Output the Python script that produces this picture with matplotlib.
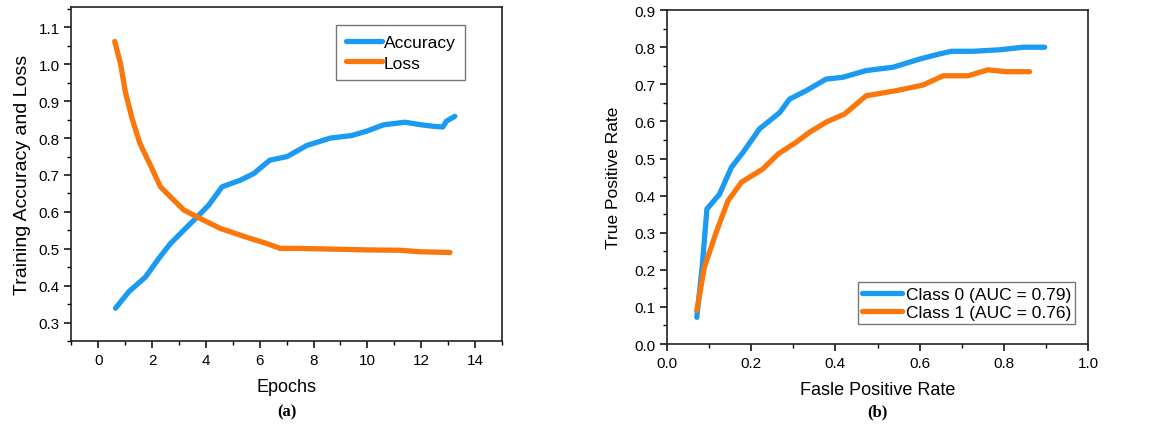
import matplotlib
matplotlib.use("Agg")
import matplotlib.pyplot as plt
from matplotlib.ticker import MultipleLocator, FormatStrFormatter

plt.rcParams['font.family'] = ['Liberation Sans', 'DejaVu Sans']

# (a) training curves
acc_epochs = [0.64, 1.14, 1.76, 2.25, 2.68, 3.24, 3.67, 4.1, 4.6, 5.28, 5.78, 6.37,
              7.02, 7.75, 8.62, 9.42, 9.98, 10.6, 11.4, 12.0, 12.45, 12.8, 12.94, 13.25]
accuracy = [0.339, 0.384, 0.424, 0.474, 0.514, 0.555, 0.586, 0.618, 0.668, 0.686, 0.704, 0.74,
            0.75, 0.78, 0.80, 0.807, 0.819, 0.836, 0.843, 0.836, 0.832, 0.83, 0.846, 0.859]
loss_epochs = [0.61, 0.83, 1.01, 1.26, 1.55, 1.94, 2.31, 2.68, 3.18, 3.79, 4.54, 5.65,
               6.27, 6.76, 7.5, 8.74, 9.98, 11.2, 11.95, 13.07]
loss = [1.062, 1.001, 0.924, 0.852, 0.785, 0.726, 0.668, 0.641, 0.605, 0.582, 0.555, 0.528,
        0.514, 0.501, 0.501, 0.499, 0.497, 0.496, 0.492, 0.49]

# (b) ROC curves
fpr0 = [0.071, 0.084, 0.095, 0.125, 0.153, 0.181, 0.220, 0.268, 0.291, 0.331, 0.378,
        0.418, 0.473, 0.537, 0.600, 0.648, 0.675, 0.727, 0.790, 0.846, 0.897]
tpr0 = [0.072, 0.211, 0.364, 0.404, 0.476, 0.517, 0.580, 0.624, 0.660, 0.683, 0.714,
        0.719, 0.737, 0.746, 0.768, 0.782, 0.789, 0.789, 0.793, 0.800, 0.800]
fpr1 = [0.071, 0.089, 0.117, 0.145, 0.177, 0.228, 0.264, 0.307, 0.339, 0.378, 0.422,
        0.473, 0.545, 0.608, 0.656, 0.715, 0.762, 0.806, 0.861]
tpr1 = [0.090, 0.207, 0.301, 0.386, 0.436, 0.472, 0.512, 0.544, 0.571, 0.598, 0.620,
        0.669, 0.683, 0.698, 0.723, 0.723, 0.739, 0.734, 0.734]

blue = '#1a9af0'
orange = '#fb770c'
lw = 3.8

fig = plt.figure(figsize=(11.7, 4.27), dpi=100)
ax1 = fig.add_axes([0.061, 0.199, 0.368, 0.782])
ax2 = fig.add_axes([0.570, 0.192, 0.360, 0.782])

ax1.plot(acc_epochs, accuracy, color=blue, lw=lw, solid_capstyle='round', label='Accuracy')
ax1.plot(loss_epochs, loss, color=orange, lw=lw, solid_capstyle='round', label='Loss')
ax1.set_xlim(-1, 15)
ax1.set_ylim(0.25, 1.155)
ax1.xaxis.set_major_locator(MultipleLocator(2))
ax1.xaxis.set_minor_locator(MultipleLocator(1))
ax1.yaxis.set_minor_locator(MultipleLocator(0.05))
ax1.set_yticks([0.3, 0.4, 0.5, 0.6, 0.7, 0.8, 0.9, 1.0, 1.1])
ax1.yaxis.set_major_formatter(FormatStrFormatter('%.1f'))
ax1.set_xlabel('Epochs', fontsize=13, labelpad=8)
ax1.set_ylabel('Training Accuracy and Loss', fontsize=14, labelpad=5)
leg1 = ax1.legend(loc='upper right', bbox_to_anchor=(0.915, 0.945), fontsize=12.5,
                  frameon=True, fancybox=False, edgecolor='#555555', handlelength=2.1,
                  handletextpad=0.1, borderpad=0.55, labelspacing=0.3, borderaxespad=0)
leg1.get_frame().set_linewidth(1.0)
fig.text(0.245, 0.025, '(a)', fontsize=12, fontweight='bold', ha='center',
         family=['Liberation Serif', 'DejaVu Serif'])

ax2.plot(fpr0, tpr0, color=blue, lw=lw, solid_capstyle='round', label='Class 0 (AUC = 0.79)')
ax2.plot(fpr1, tpr1, color=orange, lw=lw, solid_capstyle='round', label='Class 1 (AUC = 0.76)')
ax2.set_xlim(0, 1.0)
ax2.set_ylim(0, 0.9)
ax2.xaxis.set_major_locator(MultipleLocator(0.2))
ax2.xaxis.set_minor_locator(MultipleLocator(0.1))
ax2.yaxis.set_major_locator(MultipleLocator(0.1))
ax2.yaxis.set_minor_locator(MultipleLocator(0.05))
ax2.xaxis.set_major_formatter(FormatStrFormatter('%.1f'))
ax2.yaxis.set_major_formatter(FormatStrFormatter('%.1f'))
ax2.set_xlabel('Fasle Positive Rate', fontsize=13, labelpad=8)
ax2.set_ylabel('True Positive Rate', fontsize=12.5, labelpad=9)
leg2 = ax2.legend(loc='lower right', bbox_to_anchor=(0.97, 0.06), fontsize=12.5,
                  frameon=True, fancybox=False, edgecolor='#555555', handlelength=2.3,
                  handletextpad=0.2, borderpad=0.25, labelspacing=0.15, borderaxespad=0)
leg2.get_frame().set_linewidth(1.0)
fig.text(0.75, 0.025, '(b)', fontsize=12, fontweight='bold', ha='center',
         family=['Liberation Serif', 'DejaVu Serif'])

for ax in (ax1, ax2):
    for s in ax.spines.values():
        s.set_linewidth(1.2)
        s.set_color('#222222')
    ax.tick_params(which='major', direction='out', length=5, width=1.1, labelsize=11)
    ax.tick_params(which='minor', direction='out', length=3, width=1.0)

fig.savefig('out.png', dpi=100)
